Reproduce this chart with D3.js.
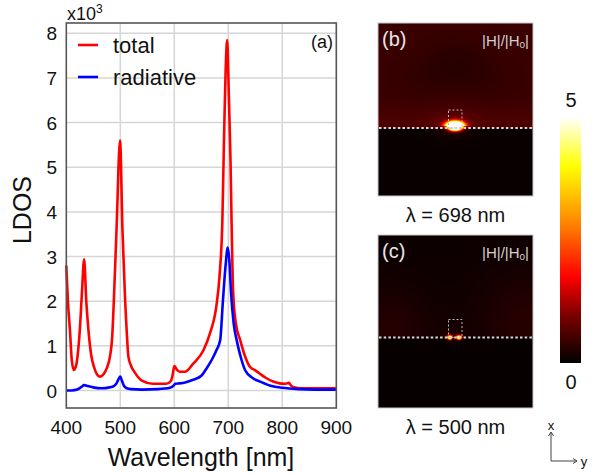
<!DOCTYPE html>
<html>
<head>
<meta charset="utf-8">
<script src="https://cdn.jsdelivr.net/npm/d3@7/dist/d3.min.js"></script>
<style>
  body { margin: 0; background: #fff; }
  svg { font-family: "Liberation Sans", Arial, sans-serif; }
</style>
</head>
<body>
<div id="chart"></div>
<script>
// spectra (LDOS in units of 10^3)
const wlTotal = [400,403,407,410,414,418,422,425,429,433,437,441,446,452,462,470,475,481,485,488,493,499.5,504,509,512,515,520,527,540,560,585,594,597,600,604,610,620,635,654,666,678,684,689,692,698,701,704,706,709,714,722,730,740,750,758,770,783,795,805,812,817,822,835,860,900];
const ldosTotal = [2.8,2.0,1.3,0.7,0.46,0.55,0.9,1.35,2.2,2.94,2.0,1.35,0.8,0.5,0.31,0.38,0.5,0.77,1.2,2.0,3.6,5.6,3.6,2.0,1.3,0.76,0.55,0.4,0.22,0.15,0.15,0.22,0.35,0.55,0.48,0.42,0.42,0.6,0.9,1.28,1.9,2.6,3.8,5.6,7.85,6.6,5.2,3.8,2.2,1.5,1.13,0.8,0.53,0.45,0.38,0.28,0.2,0.16,0.15,0.17,0.1,0.07,0.05,0.05,0.05];
const wlRad = [400,410,420,428,433,440,450,465,480,488,493,497,500,503,507,512,520,540,570,592,598,602,610,620,635,650,660,670,678,685,690,695,699,702,705,710,716,723,731,745,759,780,800,830,860,900];
const ldosRad = [0.0,0.0,0.02,0.08,0.12,0.1,0.07,0.05,0.07,0.1,0.16,0.26,0.31,0.22,0.1,0.05,0.03,0.02,0.03,0.06,0.1,0.15,0.16,0.18,0.24,0.33,0.5,0.7,0.9,1.13,2.0,2.8,3.2,2.9,2.2,1.5,1.1,0.75,0.46,0.28,0.2,0.1,0.06,0.03,0.02,0.02];

const xTicks = [400,500,600,700,800,900];
const yTicks = [0,1,2,3,4,5,6,7,8];
const seriesNames = ["total", "radiative"];
const seriesColors = ["#ff0000", "#0000ff"];

// field-map panels: label, wavelength, hot spots [u, v, rx, ry, peak]
const mapLabels = ["(b)", "(c)"];
const mapLambda = ["λ = 698 nm", "λ = 500 nm"];
const mapSpots = [
  [[0.497, 0.598, 0.06, 0.03, 9]],
  [[0.463, 0.594, 0.02, 0.015, 4.4], [0.522, 0.594, 0.02, 0.015, 4.4]]
];
const colorStops = ["#000000", "#800000", "#ff0000", "#ff8c00", "#ffff00", "#ffffff"];
const colorStopPos = [0, 0.2, 0.35, 0.58, 0.8, 1];
const cbTicks = [0, 5];

const W = 597, H = 474;
const svg = d3.select("#chart").append("svg").attr("width", W).attr("height", H);

// ---------- panel (a) ----------
const x = d3.scaleLinear().domain([400, 900]).range([66.3, 336.3]);
const y = d3.scaleLinear().domain([0, 8]).range([390.5, 33.3]);
const plotTop = 23, plotBottom = 408;

const g = svg.append("g");
g.append("g").selectAll("line").data(xTicks.slice(1, -1)).join("line")
  .attr("x1", d => x(d)).attr("x2", d => x(d)).attr("y1", plotTop).attr("y2", plotBottom)
  .attr("stroke", "#d6d6d6").attr("stroke-width", 1.5);
g.append("g").selectAll("line").data(yTicks).join("line")
  .attr("x1", x(400)).attr("x2", x(900)).attr("y1", d => y(d)).attr("y2", d => y(d))
  .attr("stroke", "#d6d6d6").attr("stroke-width", 1.5);

const line = d3.line().x(d => x(d[0])).y(d => y(d[1])).curve(d3.curveMonotoneX);
g.append("path").datum(d3.zip(wlTotal, ldosTotal)).attr("d", line)
  .attr("fill", "none").attr("stroke", seriesColors[0]).attr("stroke-width", 2.6).attr("stroke-linejoin", "round");
g.append("path").datum(d3.zip(wlRad, ldosRad)).attr("d", line)
  .attr("fill", "none").attr("stroke", seriesColors[1]).attr("stroke-width", 2.6).attr("stroke-linejoin", "round");

g.append("rect").attr("x", x(400)).attr("y", plotTop).attr("width", x(900) - x(400)).attr("height", plotBottom - plotTop)
  .attr("fill", "none").attr("stroke", "#555").attr("stroke-width", 1.6);

g.append("g").selectAll("text").data(yTicks).join("text")
  .attr("x", 57).attr("y", d => y(d) + 7).attr("text-anchor", "end")
  .attr("font-size", 19).attr("fill", "#111").text(d => d);
g.append("g").selectAll("text").data(xTicks).join("text")
  .attr("x", d => x(d)).attr("y", 434).attr("text-anchor", "middle")
  .attr("font-size", 19).attr("fill", "#111").text(d => d);

const mult = g.append("text").attr("x", 67).attr("y", 20).attr("font-size", 18).attr("fill", "#111");
mult.append("tspan").text("x10");
mult.append("tspan").attr("font-size", 12).attr("dy", -7).text("3");

g.append("text").attr("transform", "translate(31,210) rotate(-90)").attr("text-anchor", "middle")
  .attr("font-size", 25).attr("fill", "#111").text("LDOS");
g.append("text").attr("x", 201).attr("y", 466).attr("text-anchor", "middle")
  .attr("font-size", 25).attr("fill", "#111").text("Wavelength [nm]");
g.append("text").attr("x", 333).attr("y", 48).attr("text-anchor", "end")
  .attr("font-size", 18).attr("fill", "#111").text("(a)");

const leg = g.append("g").selectAll("g").data(seriesNames).join("g")
  .attr("transform", (d, i) => `translate(78,${45 + i * 32})`);
leg.append("line").attr("x1", 0).attr("x2", 20).attr("stroke", (d, i) => seriesColors[i]).attr("stroke-width", 2.6);
leg.append("text").attr("x", 35).attr("y", 8).attr("font-size", 22).attr("fill", "#111").text(d => d);

// ---------- panels (b), (c) ----------
const hot = d3.scaleLinear().domain(colorStopPos.map(p => p * 5)).range(colorStops).clamp(true);
const mapX = 378, mapW = 155, mapH = 173;
const mapY = [23, 235];

function fieldB(u, v, lineV) {
  if (v < lineV) {
    const wave = 0.05 * Math.sin(u * 6.28 * 1.2 + 1.0);
    let val = 0.45 - 0.14 * Math.exp(-Math.pow((u - 0.5) / 0.32, 2)) * Math.exp(-Math.pow((v - 0.3 - wave) / 0.16, 2));
    val += 0.14 * Math.exp(-Math.pow((v - lineV) / 0.14, 2));
    return val;
  }
  return 0.06;
}
function fieldC(u, v, lineV) {
  if (v < lineV) {
    let val = 0.1;
    const r1 = Math.hypot(u - 0.08, v - 0.58);
    const r2 = Math.hypot(u - 0.95, v - 0.52);
    val += 0.2 * Math.exp(-Math.pow(r1 / 0.27, 2)) + 0.2 * Math.exp(-Math.pow(r2 / 0.32, 2));
    return val;
  }
  return 0.05;
}
const fields = [fieldB, fieldC];
const lineVs = [(128 - 23) / 173, (337.5 - 235) / 173];

mapLabels.forEach((lab, k) => {
  const cv = document.createElement("canvas");
  cv.width = mapW; cv.height = mapH;
  const ctx = cv.getContext("2d");
  const img = ctx.createImageData(mapW, mapH);
  for (let j = 0; j < mapH; j++) {
    for (let i = 0; i < mapW; i++) {
      const u = (i + 0.5) / mapW, v = (j + 0.5) / mapH;
      let val = fields[k](u, v, lineVs[k]);
      mapSpots[k].forEach(s => {
        const du = (u - s[0]) / s[2], dv = (v - s[1]) / s[3];
        const r2 = du * du + dv * dv;
        const fall = v > s[1] ? 1.6 : 1;
        val += s[4] * Math.exp(-Math.pow(r2 * fall, 1.3)) + 0.9 * Math.exp(-Math.sqrt(r2 * fall) / 1.2) * (s[4] / 9);
      });
      const c = d3.rgb(hot(val));
      const p = (j * mapW + i) * 4;
      img.data[p] = c.r; img.data[p + 1] = c.g; img.data[p + 2] = c.b; img.data[p + 3] = 255;
    }
  }
  ctx.putImageData(img, 0, 0);
  const my = mapY[k];
  svg.append("image").attr("x", mapX).attr("y", my).attr("width", mapW).attr("height", mapH)
    .attr("href", cv.toDataURL());
  svg.append("rect").attr("x", mapX).attr("y", my).attr("width", mapW).attr("height", mapH)
    .attr("fill", "none").attr("stroke", "#c8c8c8").attr("stroke-width", 1);
  const ly = my + lineVs[k] * mapH;
  svg.append("line").attr("x1", mapX + 1).attr("x2", mapX + mapW).attr("y1", ly).attr("y2", ly)
    .attr("stroke", "#d8d8d8").attr("stroke-width", 2).attr("stroke-dasharray", "2.5,2.2");
  svg.append("rect").attr("x", 448.5).attr("y", ly - 18).attr("width", 13.5).attr("height", 18)
    .attr("fill", "none").attr("stroke", "#bbb").attr("stroke-width", 1).attr("stroke-dasharray", "2,2");
  svg.append("text").attr("x", mapX + 4).attr("y", my + 23).attr("font-size", 20).attr("fill", "#e6e6e6").text(lab);
  const ht = svg.append("text").attr("x", mapX + mapW - 4).attr("y", my + 23).attr("text-anchor", "end")
    .attr("font-size", 15).attr("fill", "#d0d0d0");
  ht.append("tspan").text("|H|/|H");
  ht.append("tspan").attr("font-size", 10).attr("dy", 2).text("o");
  ht.append("tspan").attr("dy", -2).text("|");
  svg.append("text").attr("x", mapX + mapW / 2).attr("y", my + mapH + 26).attr("text-anchor", "middle")
    .attr("font-size", 20).attr("fill", "#111").text(mapLambda[k]);
});

// colorbar
const cbY = d3.scaleLinear().domain([0, 5]).range([363, 117]);
const grad = svg.append("defs").append("linearGradient").attr("id", "cb")
  .attr("x1", 0).attr("x2", 0).attr("y1", 1).attr("y2", 0);
grad.selectAll("stop").data(d3.range(0, 1.001, 0.05)).join("stop")
  .attr("offset", d => d).attr("stop-color", d => hot(d * 5));
svg.append("rect").attr("x", 560).attr("y", cbY(5)).attr("width", 21).attr("height", cbY(0) - cbY(5))
  .attr("fill", "url(#cb)");
svg.append("g").selectAll("text").data(cbTicks).join("text")
  .attr("x", 571).attr("y", d => d === 5 ? cbY(d) - 10 : cbY(d) + 26).attr("text-anchor", "middle")
  .attr("font-size", 20).attr("fill", "#111").text(d => d);

// coordinate indicator
const ax = svg.append("g").attr("stroke", "#444").attr("stroke-width", 1).attr("fill", "none");
ax.append("path").attr("d", "M551,461 L551,432 M548.5,436 L551,432 L553.5,436");
ax.append("path").attr("d", "M551,461 L577,461 M573,458.5 L577,461 L573,463.5");
svg.append("text").attr("x", 551).attr("y", 430).attr("text-anchor", "middle").attr("font-size", 13).attr("fill", "#111").text("x");
svg.append("text").attr("x", 584).attr("y", 466).attr("text-anchor", "middle").attr("font-size", 13).attr("fill", "#111").text("y");
</script>
</body>
</html>
